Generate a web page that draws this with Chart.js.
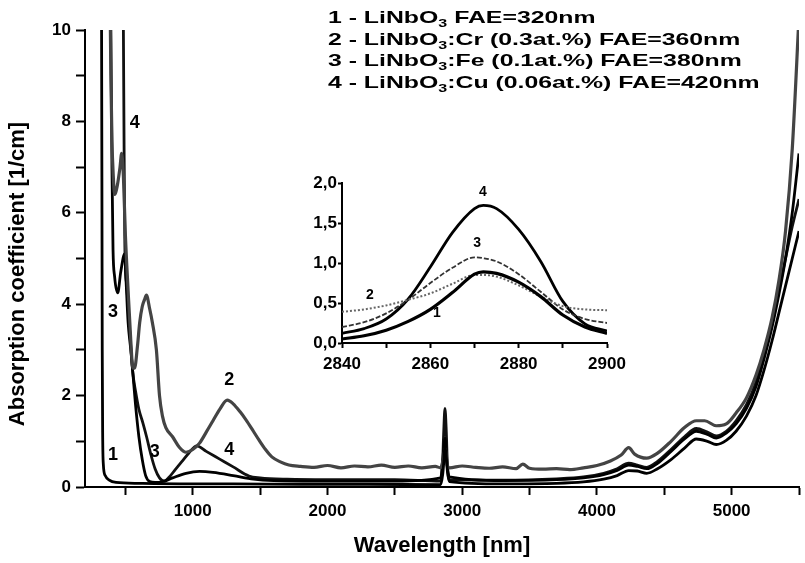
<!DOCTYPE html>
<html>
<head>
<meta charset="utf-8">
<script src="https://cdn.jsdelivr.net/npm/chart.js@4.4.1/dist/chart.umd.min.js"></script>
<style>
html,body{margin:0;padding:0;background:#fff;}
#wrap{position:relative;width:805px;height:563px;}
#main{position:absolute;left:0;top:0;}
#inset{position:absolute;left:290px;top:170px;}
</style>
</head>
<body>
<div id="wrap">
<canvas id="main" width="805" height="563"></canvas>
<canvas id="inset" width="350" height="205"></canvas>
</div>
<script>
const FONT = "'Liberation Sans', Arial, sans-serif";
Chart.defaults.font.family = FONT;
Chart.defaults.font.weight = 'bold';
Chart.defaults.color = '#000';

// main spectrum, wavelength [nm] / absorption [1/cm]
const x1 = [318, 323, 326, 328, 331, 336, 350, 380, 430, 600, 900, 1300, 1800, 2300, 2840, 2855, 2862, 2872, 2882, 2890, 2905, 3300, 3700, 3900, 4050, 4150, 4236, 4300, 4370, 4450, 4550, 4650, 4738, 4820, 4886, 4960, 5033, 5110, 5181, 5240, 5300, 5350, 5400, 5450, 5500];
const y1 = [14, 10, 6, 3, 1.2, 0.5, 0.25, 0.15, 0.1, 0.08, 0.07, 0.07, 0.06, 0.06, 0.05, 0.27, 0.5, 0.89, 0.66, 0.35, 0.12, 0.07, 0.08, 0.11, 0.17, 0.25, 0.36, 0.35, 0.3, 0.4, 0.6, 0.85, 1.05, 1.0, 0.93, 1.02, 1.22, 1.55, 2.0, 2.55, 3.2, 3.8, 4.4, 5.0, 5.6];

const x2 = [370, 385, 392, 400, 410, 420, 440, 460, 472, 485, 500, 520, 540, 555, 568, 590, 606, 625, 642, 656, 680, 700, 730, 753, 775, 800, 850, 900, 950, 1000, 1050, 1100, 1150, 1200, 1256, 1300, 1350, 1395, 1450, 1491, 1540, 1587, 1650, 1713, 1800, 1900, 2000, 2100, 2200, 2300, 2400, 2500, 2600, 2700, 2800, 2840, 2855, 2862, 2872, 2882, 2890, 2905, 3000, 3100, 3200, 3300, 3400, 3450, 3500, 3600, 3700, 3800, 3900, 4000, 4100, 4180, 4236, 4280, 4370, 4450, 4550, 4650, 4738, 4800, 4886, 4960, 5033, 5110, 5181, 5240, 5300, 5350, 5400, 5450, 5500];
const y2 = [14, 11, 9, 7.6, 6.8, 6.4, 6.6, 7.0, 7.3, 6.8, 5.5, 4.3, 3.2, 2.6, 2.6, 3.1, 3.6, 3.95, 4.1, 4.2, 3.9, 3.6, 3.0, 2.0, 1.55, 1.3, 1.1, 0.87, 0.76, 0.82, 0.96, 1.2, 1.45, 1.7, 1.9, 1.82, 1.65, 1.47, 1.22, 1.03, 0.82, 0.66, 0.55, 0.48, 0.45, 0.43, 0.47, 0.42, 0.46, 0.44, 0.48, 0.43, 0.46, 0.42, 0.45, 0.42, 0.55, 0.62, 0.85, 0.68, 0.47, 0.42, 0.46, 0.43, 0.41, 0.44, 0.4, 0.5, 0.41, 0.39, 0.4, 0.38, 0.42, 0.47, 0.57, 0.7, 0.86, 0.72, 0.63, 0.74, 1.0, 1.3, 1.45, 1.45, 1.34, 1.38, 1.62, 1.95, 2.45, 3.0, 3.7, 4.5, 5.6, 7.4, 10.3];

const x3 = [380, 392, 400, 408, 420, 443, 465, 494, 505, 520, 540, 555, 575, 600, 625, 650, 680, 720, 780, 850, 950, 1050, 1150, 1300, 1450, 1600, 2000, 2500, 2840, 2855, 2862, 2872, 2882, 2890, 2905, 3300, 3700, 3900, 4050, 4150, 4236, 4300, 4370, 4450, 4550, 4650, 4738, 4820, 4886, 4960, 5033, 5110, 5181, 5240, 5300, 5350, 5400, 5450, 5500];
const y3 = [14, 10, 7, 5.2, 4.6, 4.25, 4.7, 5.1, 4.5, 3.6, 3.0, 2.5, 1.8, 1.1, 0.6, 0.25, 0.12, 0.1, 0.12, 0.2, 0.3, 0.34, 0.32, 0.25, 0.17, 0.14, 0.13, 0.13, 0.2, 0.54, 0.8, 1.07, 0.7, 0.42, 0.22, 0.14, 0.16, 0.2, 0.27, 0.36, 0.48, 0.45, 0.4, 0.52, 0.78, 1.05, 1.22, 1.15, 1.07, 1.18, 1.38, 1.72, 2.2, 2.8, 3.5, 4.2, 5.0, 6.0, 7.3];

const x4 = [478, 485, 490, 495, 500, 510, 530, 555, 575, 600, 630, 657, 690, 720, 753, 790, 820, 870, 920, 970, 1030, 1100, 1200, 1300, 1417, 1500, 1700, 2000, 2500, 2840, 2855, 2862, 2872, 2882, 2890, 2905, 3300, 3700, 3900, 4050, 4150, 4236, 4300, 4370, 4450, 4550, 4650, 4738, 4820, 4886, 4960, 5033, 5110, 5181, 5240, 5300, 5350, 5400, 5450, 5500];
const y4 = [14, 10, 7.5, 5.5, 4.8, 4.4, 3.5, 2.5, 2.1, 1.7, 1.4, 1.1, 0.7, 0.4, 0.2, 0.13, 0.2, 0.38, 0.56, 0.74, 0.9, 0.78, 0.61, 0.44, 0.24, 0.2, 0.17, 0.16, 0.16, 0.13, 0.58, 1.15, 1.72, 1.2, 0.5, 0.16, 0.15, 0.18, 0.22, 0.3, 0.4, 0.52, 0.48, 0.43, 0.56, 0.82, 1.1, 1.28, 1.2, 1.12, 1.22, 1.45, 1.8, 2.3, 2.9, 3.6, 4.3, 5.0, 5.7, 6.3];

const xTicks = [500, 1000, 1500, 2000, 2500, 3000, 3500, 4000, 4500, 5000, 5500];

// inset: OH band
const insetX = [2840, 2845, 2850, 2855, 2860, 2865, 2870, 2872, 2875, 2880, 2885, 2890, 2895, 2900];
const insetY1 = [0.05, 0.09, 0.16, 0.27, 0.42, 0.63, 0.86, 0.89, 0.87, 0.76, 0.58, 0.35, 0.2, 0.12];
const insetY2 = [0.39, 0.42, 0.47, 0.54, 0.62, 0.74, 0.85, 0.85, 0.83, 0.72, 0.58, 0.46, 0.42, 0.41];
const insetY3 = [0.2, 0.26, 0.37, 0.54, 0.75, 0.94, 1.07, 1.06, 1.02, 0.86, 0.64, 0.42, 0.3, 0.25];
const insetY4 = [0.12, 0.18, 0.3, 0.55, 0.95, 1.38, 1.68, 1.72, 1.68, 1.42, 1.02, 0.52, 0.24, 0.15];

// curve numbers placed on the plots
const mainTags = ['1', '3', '3', '4', '2', '4'];
const mainTagX = [407, 407, 717, 1270, 1270, 569];
const mainTagY = [0.7, 3.83, 0.77, 0.81, 2.34, 7.96];
const insetTags = ['4', '3', '2', '1'];
const insetTagX = [2871.9, 2870.6, 2846.3, 2861.5];
const insetTagY = [1.88, 1.25, 0.6, 0.375];

const legendLines = [
  ['1 - LiNbO', '3', ' FAE=320nm'],
  ['2 - LiNbO', '3', ':Cr (0.3at.%) FAE=360nm'],
  ['3 - LiNbO', '3', ':Fe (0.1at.%) FAE=380nm'],
  ['4 - LiNbO', '3', ':Cu (0.06at.%) FAE=420nm']
];

function pts(xs, ys) { return xs.map((x, i) => ({ x: x, y: ys[i] })); }

function tagPlugin(tags, tx, ty, size) {
  return {
    id: 'tags',
    afterDraw(chart) {
      const ctx = chart.ctx;
      ctx.save();
      ctx.font = 'bold ' + size + 'px ' + FONT;
      ctx.fillStyle = '#000';
      ctx.textAlign = 'center';
      ctx.textBaseline = 'middle';
      tags.forEach((t, i) => {
        ctx.fillText(t, chart.scales.x.getPixelForValue(tx[i]), chart.scales.y.getPixelForValue(ty[i]));
      });
      ctx.restore();
    }
  };
}

const textPlugin = {
  id: 'texts',
  afterDraw(chart) {
    const ctx = chart.ctx;
    ctx.save();
    ctx.fillStyle = '#000';
    // y axis title
    ctx.font = 'bold 22px ' + FONT;
    ctx.textAlign = 'center';
    ctx.textBaseline = 'middle';
    ctx.translate(18, 274);
    ctx.rotate(-Math.PI / 2);
    ctx.fillText('Absorption coefficient [1/cm]', 0, 0);
    ctx.restore();

    // legend block
    legendLines.forEach((l, i) => {
      ctx.save();
      ctx.fillStyle = '#000';
      ctx.textAlign = 'left';
      ctx.textBaseline = 'alphabetic';
      ctx.translate(328, 23 + i * 21.7);
      ctx.scale(1.46, 1);
      ctx.font = 'bold 17px ' + FONT;
      ctx.fillText(l[0], 0, 0);
      let w = ctx.measureText(l[0]).width;
      ctx.font = 'bold 11px ' + FONT;
      ctx.fillText(l[1], w, 4);
      w += ctx.measureText(l[1]).width;
      ctx.font = 'bold 17px ' + FONT;
      ctx.fillText(l[2], w, 0);
      ctx.restore();
    });
  }
};

const axisLine = { color: '#000', width: 2 };

new Chart(document.getElementById('main'), {
  type: 'scatter',
  data: {
    datasets: [
      { data: pts(x1, y1), borderColor: '#000', borderWidth: 2.8 },
      { data: pts(x2, y2), borderColor: '#444', borderWidth: 3.2 },
      { data: pts(x3, y3), borderColor: '#000', borderWidth: 2.8 },
      { data: pts(x4, y4), borderColor: '#111', borderWidth: 2.8 }
    ]
  },
  options: {
    responsive: false,
    animation: false,
    layout: { padding: { top: 30, right: 2, left: 0, bottom: 0 } },
    elements: { point: { radius: 0 }, line: { cubicInterpolationMode: 'monotone', fill: false } },
    datasets: { scatter: { showLine: true } },
    plugins: { legend: { display: false }, tooltip: { enabled: false } },
    scales: {
      x: {
        type: 'linear', min: 200, max: 5500,
        afterFit(s) { s.height = 76; },
        afterBuildTicks(s) { s.ticks = xTicks.map(v => ({ value: v })); },
        ticks: { autoSkip: false, maxRotation: 0, padding: 6, font: { size: 17 },
          callback: v => (v % 1000 === 0 ? String(v) : '') },
        grid: { drawOnChartArea: false, tickLength: 8, tickColor: '#000', tickWidth: 2 },
        border: axisLine,
        title: { display: true, text: 'Wavelength [nm]', font: { size: 22 }, padding: { top: 0, bottom: 4 } }
      },
      y: {
        min: 0, max: 10,
        afterFit(s) { s.width = 85; },
        ticks: { stepSize: 1, autoSkip: false, padding: 5, font: { size: 17 },
          callback: v => (v % 2 === 0 ? String(v) : '') },
        grid: { drawOnChartArea: false, tickLength: 9, tickColor: '#000', tickWidth: 2 },
        border: axisLine
      }
    }
  },
  plugins: [textPlugin, tagPlugin(mainTags, mainTagX, mainTagY, 18)]
});

new Chart(document.getElementById('inset'), {
  type: 'scatter',
  data: {
    datasets: [
      { data: pts(insetX, insetY1), borderColor: '#000', borderWidth: 3.2 },
      { data: pts(insetX, insetY2), borderColor: '#666', borderWidth: 2, borderDash: [2, 2] },
      { data: pts(insetX, insetY3), borderColor: '#333', borderWidth: 1.8, borderDash: [5, 2] },
      { data: pts(insetX, insetY4), borderColor: '#000', borderWidth: 2.8 }
    ]
  },
  options: {
    responsive: false,
    animation: false,
    layout: { padding: { top: 13, right: 33, left: 0, bottom: 0 } },
    elements: { point: { radius: 0 }, line: { cubicInterpolationMode: 'monotone', fill: false } },
    datasets: { scatter: { showLine: true } },
    plugins: { legend: { display: false }, tooltip: { enabled: false } },
    scales: {
      x: {
        type: 'linear', min: 2840, max: 2900,
        afterFit(s) { s.height = 32; },
        ticks: { stepSize: 10, autoSkip: false, maxRotation: 0, padding: 6, font: { size: 17 },
          callback: v => (v % 20 === 0 ? String(v) : '') },
        grid: { drawOnChartArea: false, tickLength: 5, tickColor: '#000', tickWidth: 2 },
        border: axisLine
      },
      y: {
        min: 0, max: 2,
        afterFit(s) { s.width = 52; },
        ticks: { stepSize: 0.5, autoSkip: false, padding: 1, font: { size: 17 },
          callback: v => v.toFixed(1).replace('.', ',') },
        grid: { drawOnChartArea: false, tickLength: 4, tickColor: '#000', tickWidth: 2 },
        border: axisLine
      }
    }
  },
  plugins: [tagPlugin(insetTags, insetTagX, insetTagY, 14)]
});
</script>
</body>
</html>
